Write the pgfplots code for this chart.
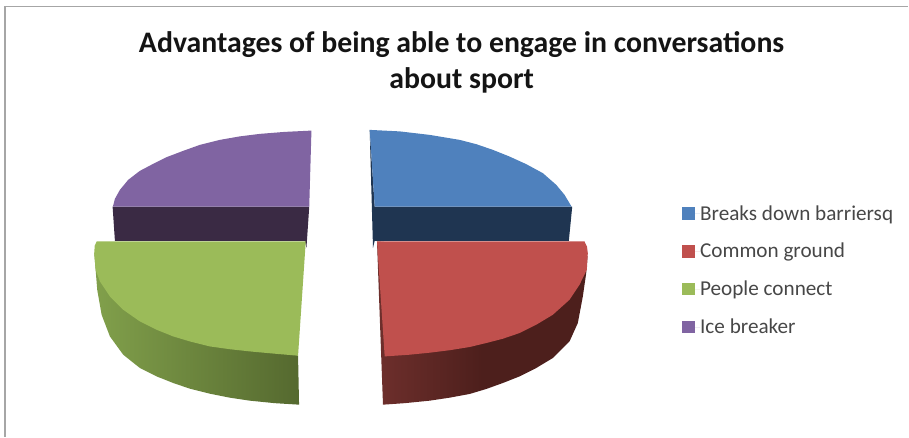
\documentclass[border=0pt]{standalone}
\usepackage{fontspec}
\setmainfont{Carlito}
\usepackage{pgfplots}
\pgfplotsset{compat=1.18}
\definecolor{blueT}{HTML}{4F81BD}
\definecolor{blueD}{HTML}{1F3551}
\definecolor{redT}{HTML}{C0504D}
\definecolor{redL}{HTML}{6E2F2C}
\definecolor{redD}{HTML}{4D1F1C}
\definecolor{greenT}{HTML}{9BBB59}
\definecolor{greenL}{HTML}{81A04B}
\definecolor{greenD}{HTML}{55692F}
\definecolor{purpleT}{HTML}{8064A2}
\definecolor{purpleD}{HTML}{3A2A44}
\begin{document}
\begin{tikzpicture}
\begin{axis}[
  width=909pt, height=437pt, scale only axis,
  xmin=0, xmax=909, ymin=0, ymax=437, y dir=reverse,
  axis lines=none, clip=false,
  legend style={draw=none, fill=none, at={(axis cs:682.7,270.5)}, anchor=west,
    inner sep=0pt, outer sep=0pt, row sep=21.7pt,
    nodes={inner sep=0pt, text=black!72, font=\fontsize{21.2}{23}\selectfont}},
  legend cell align=left,
  legend image code/.code={\fill[#1] (0pt,-6.25pt) rectangle (12.5pt,6.25pt); \path (0pt,0pt) -- (18pt,0pt);},
  every axis plot/.append style={forget plot, draw=none, line width=0pt},
]
% full drawing area
\path (axis cs:0,0) rectangle (axis cs:909,437);
% outer frame of the chart area
\addplot[draw=black!35, line width=1.5pt, no marks] coordinates {(5,437) (5,6.5) (909,6.5)};

% Ice breaker: rear-left slice
\addplot[fill=purpleD] coordinates {(112.7,206.7) (309.5,206.7) (306.7,248) (305,241) (115,241)};
\addplot[fill=purpleT] coordinates {(311.7,130.7) (285,132) (260,134) (240,136.5) (220,140) (200,145) (183.3,151) (166.7,157.3) (153.3,164) (140,171) (128.3,180) (120,190) (115,199) (113,206.7) (309.5,206.7)};

% Breaks down barriers: rear-right slice
\addplot[fill=blueD] coordinates {(370,130) (375,206.7) (572.7,206.7) (569.3,241) (375,241) (373.3,248)};
\addplot[fill=blueT] coordinates {(370,130) (400,131.5) (430,135) (460,140) (476.7,144.3) (493.3,150) (510,156.7) (526.7,164.3) (543.3,173.3) (556.7,185) (565,195) (572,206.7) (375,206.7)};

% Common ground: front-right slice, wall then top
\addplot[left color=redL, right color=redD, middle color=redD] coordinates {(588,256.7) (586.7,273.3) (583.3,296.7) (578.3,323.3) (570,341.7) (553.3,358.3) (536.7,368.3) (520,376.7) (503.3,383.3) (486.7,389.3) (470,394.3) (450,398) (430,401) (405,403.5) (383.3,405) (377.3,241.7)};
\addplot[fill=redT] coordinates {(377.3,241.7) (585,241.7) (587.5,247) (588.3,253.3) (587.3,270) (580,285) (570,300) (553.3,315) (536.7,325) (520,333.3) (503.3,339) (486.7,343.3) (470,347.3) (450,350.5) (430,353) (410,355) (385,356.7)};

% People connect: front-left slice, wall then top
\addplot[left color=greenL, right color=greenD] coordinates {(94.3,253.3) (95.7,270) (97.3,290) (101.7,315) (110,336.7) (123.3,355) (140,368.3) (156.7,376.7) (173.3,383.3) (190,389) (210,394) (230,398) (250,401) (275,403.5) (299.3,405) (298.3,356)};
\addplot[fill=greenT] coordinates {(96.7,241.7) (94.8,246) (94.3,253.3) (95.7,270) (100,281.7) (110,296.7) (123.3,310) (140,321.7) (156.7,330) (173.3,336.7) (190,341.7) (210,346.7) (230,349.5) (250,351.7) (275,354) (298.3,356) (306,241.7)};

% chart title
\node[font=\fontsize{29.8}{36}\selectfont\bfseries, align=center, text=black!92] at (axis cs:462,62)
  {Advantages of being able to engage in conversations\\about sport};

% legend, one square per slice
\addlegendimage{fill=blueT}
\addlegendentry{Breaks down barriersq}
\addlegendimage{fill=redT}
\addlegendentry{Common ground}
\addlegendimage{fill=greenT}
\addlegendentry{People connect}
\addlegendimage{fill=purpleT}
\addlegendentry{Ice breaker}
\end{axis}
\end{tikzpicture}
\end{document}
